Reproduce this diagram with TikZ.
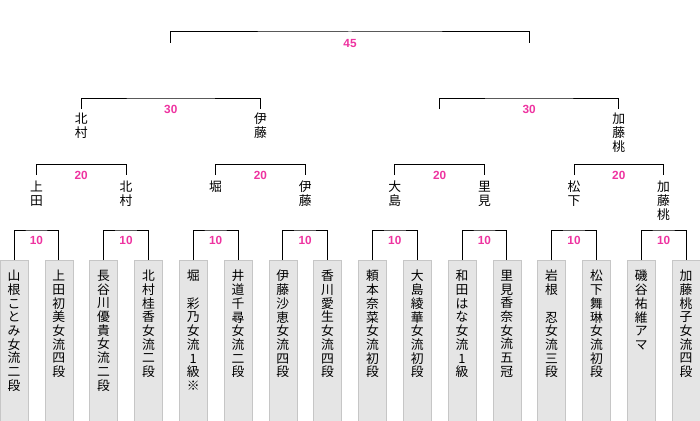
\documentclass[tikz,border=0pt]{standalone}
\usepackage{fontspec}
\usetikzlibrary{calc}
\newfontfamily\jpfont{Noto Sans CJK JP}
\newfontfamily\scorefont{Liberation Sans}
\definecolor{scorepink}{RGB}{238,51,160}
% stack the characters of a name one under another
\makeatletter
\newcommand\vstack[1]{\vst@first#1\relax}
\def\vst@first#1{#1\vst@rest}
\def\vst@rest#1{\ifx\relax#1\else\\#1\expandafter\vst@rest\fi}
\newcommand\vtext[1]{\expandafter\vstack\expandafter{#1}}
\makeatother
\begin{document}
\begin{tikzpicture}[x=1pt,y=-1pt,
    leaf/.style={draw=gray!45, fill=gray!20, anchor=north, minimum width=28pt, minimum height=165pt, inner sep=0pt},
    player/.style={anchor=north, align=center, inner sep=0pt, font=\jpfont\fontsize{12.8}{13.7}\selectfont},
    score/.style={text=scorepink, inner sep=0pt, font=\scorefont\bfseries\fontsize{11.8}{12}\selectfont},
    bracket/.style={line width=1pt}]
    \useasboundingbox (0,0) rectangle (700,420);
    % first round
    \foreach \t [count=\i] in {山根ことみ女流二段,上田初美女流四段,長谷川優貴女流二段,北村桂香女流二段,
        堀　彩乃女流1級※,井道千尋女流二段,伊藤沙恵女流四段,香川愛生女流四段,
        頼本奈菜女流初段,大島綾華女流初段,和田はな女流1級,里見香奈女流五冠,
        岩根　忍女流三段,松下舞琳女流初段,磯谷祐維アマ,加藤桃子女流四段}{
        \node[leaf] (L\i) at ({14+44.8*(\i-1)},260) {};
        \node[player] (P\i) at ([yshift=-10pt]L\i.north) {\vtext{\t}};
    }
    \foreach \k in {1,...,8}{
        \pgfmathtruncatemacro\a{2*\k-1}
        \pgfmathtruncatemacro\b{2*\k}
        \coordinate (T1-\k) at ($(L\a.north)!.5!(L\b.north)+(0,-30)$);
        \draw[bracket] (L\a.north) |- (T1-\k) -| (L\b.north);
        \node[score] (S1-\k) at ([yshift=-10pt]T1-\k) {10};
        \coordinate (E2-\k) at (T1-\k |- 0,175);
    }
    % second round
    \foreach \w [count=\k] in {上田,北村,堀,伊藤,大島,里見,松下,加藤桃}
        \node[player] (W2-\k) at ([yshift=-6pt]E2-\k) {\vtext{\w}};
    \foreach \k in {1,...,4}{
        \pgfmathtruncatemacro\a{2*\k-1}
        \pgfmathtruncatemacro\b{2*\k}
        \coordinate (T2-\k) at ($(E2-\a)!.5!(E2-\b)+(0,-10.5)$);
        \draw[bracket] (E2-\a) |- (T2-\k) -| (E2-\b);
        \node[score] (S2-\k) at ([yshift=-10.5pt]T2-\k) {20};
        \coordinate (E3-\k) at (T2-\k |- 0,109);
    }
    % semi-finals
    \foreach \k/\w in {1/北村,2/伊藤,4/加藤桃}
        \node[player] (W3-\k) at ([yshift=-4pt]E3-\k) {\vtext{\w}};
    \foreach \k in {1,2}{
        \pgfmathtruncatemacro\a{2*\k-1}
        \pgfmathtruncatemacro\b{2*\k}
        \coordinate (T3-\k) at ($(E3-\a)!.5!(E3-\b)+(0,-11)$);
        \draw[bracket] (E3-\a) |- (T3-\k) -| (E3-\b);
        \node[score] (S3-\k) at ([yshift=-11pt]T3-\k) {30};
        \coordinate (E4-\k) at (T3-\k |- 0,43);
    }
    % final
    \coordinate (T4) at ($(E4-1)!.5!(E4-2)+(0,-11)$);
    \draw[bracket] (E4-1) |- (T4) -| (E4-2);
    \node[score] (S4) at ([yshift=-11pt]T4) {45};
\end{tikzpicture}
\end{document}
